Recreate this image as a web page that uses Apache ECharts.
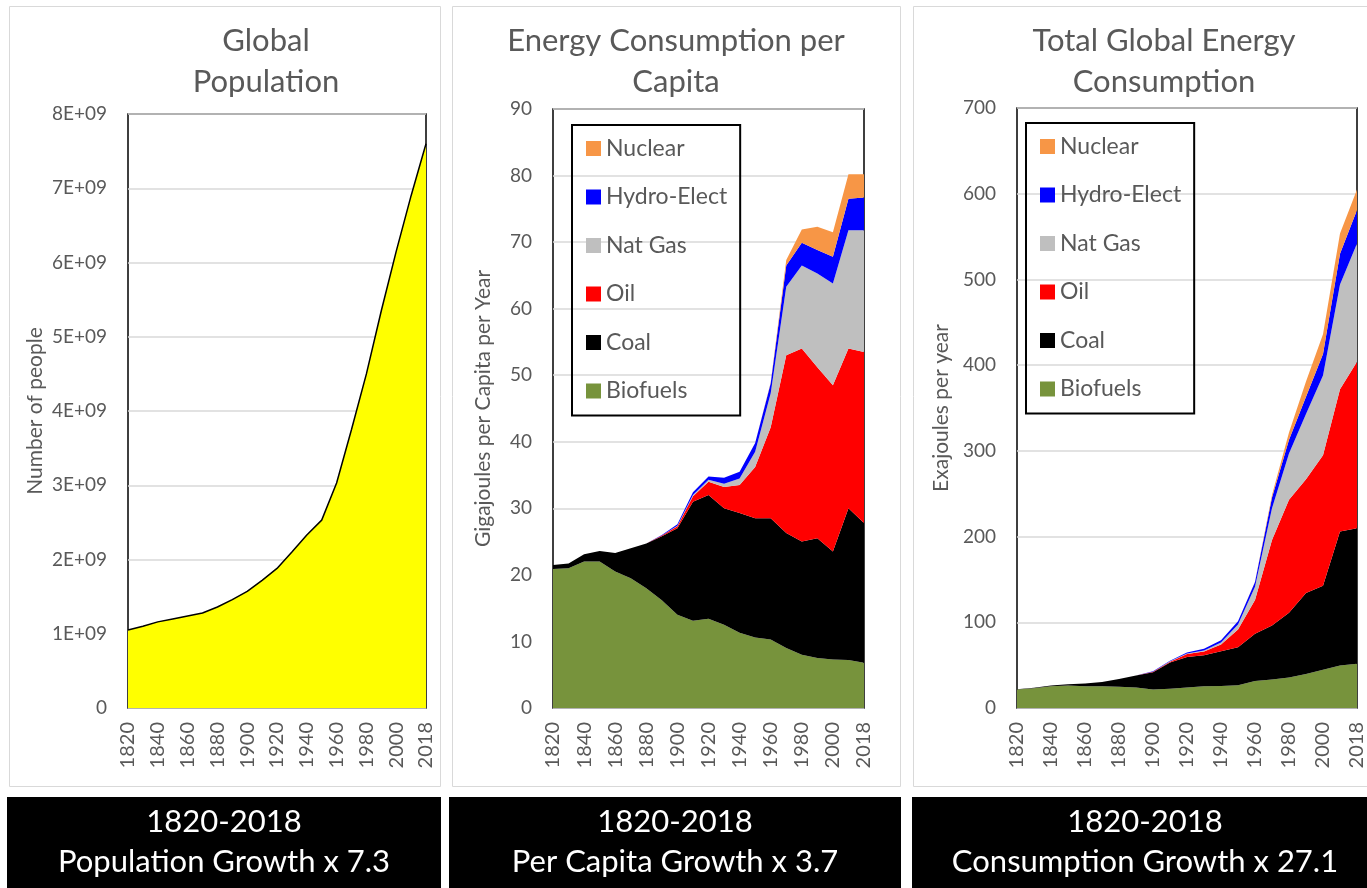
<!DOCTYPE html>
<html>
<head>
<meta charset="utf-8">
<script src="https://cdn.jsdelivr.net/npm/echarts@6/dist/echarts.min.js"></script>
<style>
html,body{margin:0;padding:0;background:#fff;}
#main{width:1367px;height:888px;}
</style>
</head>
<body>
<div id="main"></div>
<script>
// categories
var years = ['1820','1830','1840','1850','1860','1870','1880','1890','1900','1910','1920',
             '1930','1940','1950','1960','1970','1980','1990','2000','2010','2018'];

// global population (people)
var population = [1.05e9,1.10e9,1.16e9,1.20e9,1.24e9,1.28e9,1.36e9,1.46e9,1.57e9,1.72e9,1.88e9,
                  2.10e9,2.33e9,2.53e9,3.03e9,3.75e9,4.50e9,5.35e9,6.15e9,6.90e9,7.60e9];

// energy per capita (GJ per person per year)
var pcBiofuels = [20.9,21.0,22.0,22.0,20.5,19.5,18.0,16.2,14.0,13.1,13.4,12.5,11.3,10.6,10.3,9.0,8.0,7.5,7.3,7.2,6.8];
var pcCoal     = [0.6,0.7,1.1,1.6,2.8,4.5,6.7,9.6,13.0,17.9,18.6,17.5,18.0,17.9,18.2,17.3,17.0,18.0,16.2,22.8,21.0];
var pcOil      = [0,0,0,0,0,0,0,0.1,0.3,0.8,2.0,3.2,4.2,7.7,13.7,26.7,29.0,25.7,25.0,24.0,25.7];
var pcGas      = [0,0,0,0,0,0,0,0,0.1,0.2,0.3,0.5,1.0,2.3,5.1,10.3,12.5,14.1,15.3,17.8,18.3];
var pcHydro    = [0,0,0,0,0,0,0,0.1,0.2,0.4,0.5,0.9,1.0,1.3,1.5,3.2,3.4,3.5,4.0,4.7,4.9];
var pcNuclear  = [0,0,0,0,0,0,0,0,0,0,0,0,0,0,0.1,0.8,2.0,3.5,3.7,3.7,3.5];

// total global energy (EJ per year)
var totBiofuels = [21.5,23.0,25.3,26.2,25.5,25.3,24.8,23.8,21.6,22.5,24.0,25.5,25.6,26.4,31.5,33.2,35.7,39.7,44.6,49.5,51.6];
var totCoal     = [0.5,0.5,1.0,1.6,3.1,4.9,9.0,14.0,20.2,30.5,35.4,36.0,40.6,44.6,55.0,63.0,75.3,94.5,98.0,156.5,158.1];
var totOil      = [0,0,0,0,0,0,0,0.1,0.4,1.0,3.6,4.5,7.8,20.5,39.5,99.8,132,132.8,152.4,166,194.3];
var totGas      = [0,0,0,0,0,0,0,0,0.2,0.4,0.6,1.0,2.3,5.8,15.5,37,54,76,93,122,138];
var totHydro    = [0,0,0,0,0,0,0,0.1,0.4,0.8,1.2,2.2,2.8,3.8,5.5,12.5,16,20,25,36,39];
var totNuclear  = [0,0,0,0,0,0,0,0,0,0,0,0,0,0,0.3,3,8.5,18,23,23.5,24];

var sourceNames  = ['Biofuels','Coal','Oil','Nat Gas','Hydro-Elect','Nuclear'];
var sourceColors = ['#77933C','#000000','#FF0000','#BFBFBF','#0000FF','#F79646'];
var legendNames  = ['Nuclear','Hydro-Elect','Nat Gas','Oil','Coal','Biofuels'];

var FONT = 'Lato';
var GREY = '#595959';

var myChart = echarts.init(document.getElementById('main'));

function xAxis(idx) {
  return {
    type:'category', gridIndex:idx, data:years, boundaryGap:false,
    axisLine:{show:false}, axisTick:{show:false},
    axisLabel:{interval:1, rotate:90, margin:14, fontSize:20, color:GREY, fontFamily:FONT}
  };
}
function yAxis(idx, max, step, name, gap, fmt) {
  return {
    type:'value', gridIndex:idx, min:0, max:max, interval:step,
    name:name, nameLocation:'middle', nameGap:gap,
    nameTextStyle:{fontSize:21, color:GREY, fontFamily:FONT},
    axisLine:{show:false}, axisTick:{show:false},
    axisLabel:{margin:21, fontSize:19, color:GREY, fontFamily:FONT, formatter:fmt},
    splitLine:{lineStyle:{color:'#D9D9D9', width:1.5}}
  };
}
function areaSeries(name, data, color, idx, stack) {
  return {
    name:name, type:'line', xAxisIndex:idx, yAxisIndex:idx, stack:stack,
    data:data, color:color, symbol:'none', showSymbol:false,
    lineStyle:{width:0}, itemStyle:{color:color},
    areaStyle:{color:color, opacity:1}, emphasis:{disabled:true}, z:2
  };
}
function legend(left, top) {
  return {
    orient:'vertical', left:left, top:top, data:legendNames, icon:'rect',
    itemWidth:15, itemHeight:15, itemGap:25.5, selectedMode:false,
    borderColor:'#000', borderWidth:2, padding:[12,13,13,14],
    textStyle:{fontSize:23, color:GREY, fontFamily:FONT}
  };
}

var pcData  = [pcBiofuels, pcCoal, pcOil, pcGas, pcHydro, pcNuclear];
var totData = [totBiofuels, totCoal, totOil, totGas, totHydro, totNuclear];

var series = [{
  name:'Population', type:'line', xAxisIndex:0, yAxisIndex:0, data:population,
  symbol:'none', lineStyle:{color:'#000', width:1.5},
  areaStyle:{color:'#FFFF00', opacity:1}, emphasis:{disabled:true}
}];
sourceNames.forEach(function(n, i){
  series.push(areaSeries(n, pcData[i], sourceColors[i], 1, 'pc'));
});
sourceNames.forEach(function(n, i){
  series.push(areaSeries(n, totData[i], sourceColors[i], 2, 'tot'));
});

var gridBorder = {show:true, borderColor:'#000', borderWidth:1.5, backgroundColor:'transparent'};

var option = {
  animation:false,
  textStyle:{fontFamily:FONT},
  grid:[
    Object.assign({left:128, top:114, width:298, height:594}, gridBorder),
    Object.assign({left:553, top:109, width:311, height:599}, gridBorder),
    Object.assign({left:1017, top:108, width:341, height:600}, gridBorder)
  ],
  xAxis:[xAxis(0), xAxis(1), xAxis(2)],
  yAxis:[
    yAxis(0, 8e9, 1e9, 'Number of people', 82, function(v){ return v === 0 ? '0' : (v/1e9) + 'E+09'; }),
    yAxis(1, 90, 10, 'Gigajoules per Capita per Year', 59, null),
    yAxis(2, 700, 100, 'Exajoules per year', 65, null)
  ],
  legend:[legend(572, 125), legend(1026, 123)],
  series:series,
  graphic:[
    // panel outlines
    {type:'rect', shape:{x:9.5, y:6.5, width:431, height:780}, style:{fill:null, stroke:'#D9D9D9', lineWidth:1}, silent:true},
    {type:'rect', shape:{x:452.5, y:6.5, width:448, height:780}, style:{fill:null, stroke:'#D9D9D9', lineWidth:1}, silent:true},
    {type:'rect', shape:{x:913.5, y:6.5, width:470, height:780}, style:{fill:null, stroke:'#D9D9D9', lineWidth:1}, silent:true},
    // chart titles
    {type:'text', style:{text:'Global\nPopulation', x:266, y:20, textAlign:'center', textVerticalAlign:'top', font:'31px Lato', lineHeight:41, fill:GREY}},
    {type:'text', style:{text:'Energy Consumption per\nCapita', x:676, y:20, textAlign:'center', textVerticalAlign:'top', font:'31px Lato', lineHeight:41, fill:GREY}},
    {type:'text', style:{text:'Total Global Energy\nConsumption', x:1164, y:20, textAlign:'center', textVerticalAlign:'top', font:'31px Lato', lineHeight:41, fill:GREY}},
    // black caption boxes
    {type:'rect', shape:{x:7, y:797, width:434, height:91}, style:{fill:'#000'}},
    {type:'rect', shape:{x:449, y:797, width:452, height:91}, style:{fill:'#000'}},
    {type:'rect', shape:{x:912, y:797, width:460, height:91}, style:{fill:'#000'}},
    {type:'text', style:{text:'1820-2018\nPopulation Growth x 7.3', x:224, y:802, textAlign:'center', textVerticalAlign:'top', font:'31px Lato', lineHeight:40, fill:'#fff'}},
    {type:'text', style:{text:'1820-2018\nPer Capita Growth x 3.7', x:675, y:802, textAlign:'center', textVerticalAlign:'top', font:'31px Lato', lineHeight:40, fill:'#fff'}},
    {type:'text', style:{text:'1820-2018\nConsumption Growth x 27.1', x:1145, y:802, textAlign:'center', textVerticalAlign:'top', font:'31px Lato', lineHeight:40, fill:'#fff'}}
  ]
};
myChart.setOption(option);
</script>
</body>
</html>
